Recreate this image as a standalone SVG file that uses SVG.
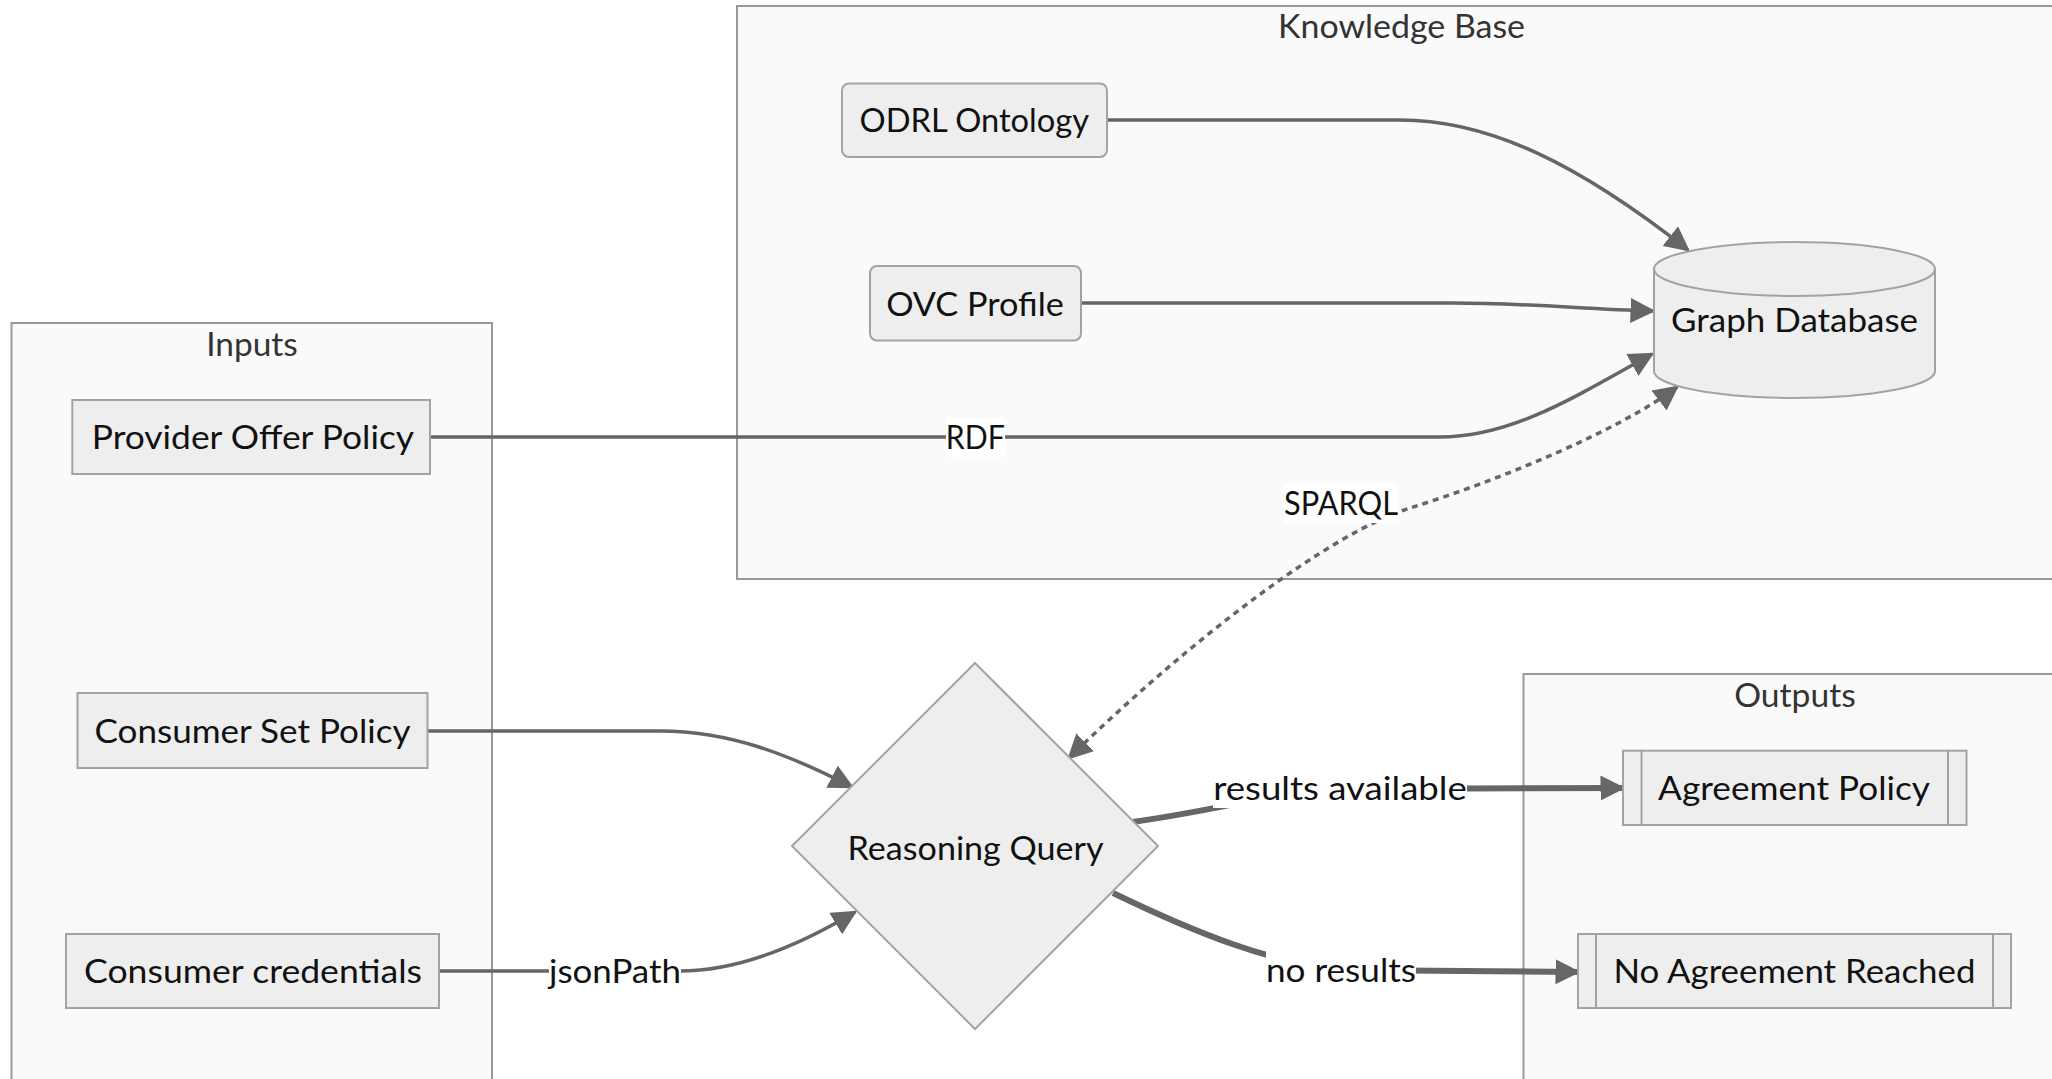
<svg xmlns="http://www.w3.org/2000/svg" width="2052" height="1079" viewBox="0 0 2052 1079">
  <style>
    .cluster rect { fill: #fafafa; stroke: #999999; stroke-width: 2; }
    .cluster text { font-family: Lato, "Liberation Sans", sans-serif; font-size: 33.5px; fill: #333333; text-anchor: middle; }
    .node rect, .node path, .node polygon { fill: #eeeeee; stroke: #a3a3a3; stroke-width: 2; }
    .node line { stroke: #a3a3a3; stroke-width: 2; }
    .node text { font-family: Lato, "Liberation Sans", sans-serif; font-size: 33.5px; fill: #111111; text-anchor: middle; }
    .edge { fill: none; stroke: #666666; stroke-width: 3.5; }
    .edge.thick { stroke-width: 6; }
    .edge.dotted { stroke-width: 3.5; stroke-dasharray: 6 5; }
    .elabel rect { fill: #ffffff; stroke: none; }
    .elabel text { font-family: Lato, "Liberation Sans", sans-serif; font-size: 33.5px; fill: #111111; text-anchor: middle; }
  </style>
  <defs>
    <marker id="arrowEnd" viewBox="0 0 10 10" refX="9" refY="5" markerUnits="userSpaceOnUse" markerWidth="25" markerHeight="25" orient="auto">
      <path d="M0,0 L10,5 L0,10 z" fill="#666666"/>
    </marker>
    <marker id="arrowStart" viewBox="0 0 10 10" refX="1" refY="5" markerUnits="userSpaceOnUse" markerWidth="25" markerHeight="25" orient="auto">
      <path d="M10,0 L0,5 L10,10 z" fill="#666666"/>
    </marker>
  </defs>

  <rect x="0" y="0" width="2052" height="1079" fill="#ffffff"/>

  <!-- subgraphs -->
  <g id="cluster-knowledge-base" class="cluster">
    <rect x="737" y="6" width="1360" height="573"/>
    <text x="1401.5" y="38" textLength="247" lengthAdjust="spacingAndGlyphs">Knowledge Base</text>
  </g>
  <g id="cluster-inputs" class="cluster">
    <rect x="11.5" y="323" width="480.5" height="800"/>
    <text x="252" y="356" textLength="91.5" lengthAdjust="spacingAndGlyphs">Inputs</text>
  </g>
  <g id="cluster-outputs" class="cluster">
    <rect x="1523.5" y="674" width="600" height="450"/>
    <text x="1795" y="707" textLength="121.6" lengthAdjust="spacingAndGlyphs">Outputs</text>
  </g>

  <!-- connectors -->
  <g id="edges">
    <path id="e-odrl-gdb" class="edge" d="M1107,120 L1400,120 C1490,120 1580,165 1688,250" marker-end="url(#arrowEnd)"/>
    <path id="e-ovc-gdb" class="edge" d="M1081,303 L1450,303 C1530,303 1580,309 1653,311" marker-end="url(#arrowEnd)"/>
    <path id="e-provider-gdb" class="edge" d="M430,437 L1440,437 C1510,437 1570,400 1652,354" marker-end="url(#arrowEnd)"/>
    <path id="e-gdb-query" class="edge dotted" d="M1677,387 C1620,430 1500,480 1410,508 C1330,533 1190,640 1069,758" marker-start="url(#arrowStart)" marker-end="url(#arrowEnd)"/>
    <path id="e-setpolicy-query" class="edge" d="M428,731 L660,731 C730,731 790,755 852,787" marker-end="url(#arrowEnd)"/>
    <path id="e-credentials-query" class="edge" d="M439,971 L680,971 C740,971 800,945 855,912" marker-end="url(#arrowEnd)"/>
    <path id="e-query-agreement" class="edge thick" d="M1133,822 C1230,808 1280,791 1340,789 L1623,788" marker-end="url(#arrowEnd)"/>
    <path id="e-query-noagreement" class="edge thick" d="M1113,893 C1200,935 1270,962 1341,970 L1578,972" marker-end="url(#arrowEnd)"/>

    <g class="elabel">
      <rect x="946" y="418" width="59" height="39"/>
      <text x="975.3" y="448.5" textLength="59" lengthAdjust="spacingAndGlyphs">RDF</text>
    </g>
    <g class="elabel">
      <rect x="1284" y="484" width="114" height="39"/>
      <text x="1341" y="515" textLength="114" lengthAdjust="spacingAndGlyphs">SPARQL</text>
    </g>
    <g class="elabel">
      <rect x="549" y="952" width="132" height="39"/>
      <text x="615" y="982.7" textLength="132" lengthAdjust="spacingAndGlyphs">jsonPath</text>
    </g>
    <g class="elabel">
      <rect x="1213" y="769" width="254" height="39"/>
      <text x="1340" y="800" textLength="253.7" lengthAdjust="spacingAndGlyphs">results available</text>
    </g>
    <g class="elabel">
      <rect x="1266" y="951" width="150" height="39"/>
      <text x="1341" y="981.7" textLength="150" lengthAdjust="spacingAndGlyphs">no results</text>
    </g>
  </g>

  <!-- nodes -->
  <g id="odrl-ontology" class="node">
    <rect x="842" y="83.5" width="265" height="73.5" rx="7" ry="7"/>
    <text x="974.3" y="132" textLength="229.5" lengthAdjust="spacingAndGlyphs">ODRL Ontology</text>
  </g>
  <g id="ovc-profile" class="node">
    <rect x="870" y="266" width="211" height="74.5" rx="7" ry="7"/>
    <text x="975" y="315.5" textLength="177.75" lengthAdjust="spacingAndGlyphs">OVC Profile</text>
  </g>
  <g id="graph-database" class="node">
    <path d="M1654,269 a140.5,27 0 0 0 281,0 a140.5,27 0 0 0 -281,0 l0,102 a140.5,27 0 0 0 281,0 l0,-102"/>
    <text x="1794.6" y="331.7" textLength="247" lengthAdjust="spacingAndGlyphs">Graph Database</text>
  </g>
  <g id="provider-offer-policy" class="node">
    <rect x="72.3" y="400" width="357.7" height="74"/>
    <text x="252.9" y="449.3" textLength="322.3" lengthAdjust="spacingAndGlyphs">Provider Offer Policy</text>
  </g>
  <g id="consumer-set-policy" class="node">
    <rect x="77.5" y="693" width="350" height="75"/>
    <text x="252.5" y="742.7" textLength="316" lengthAdjust="spacingAndGlyphs">Consumer Set Policy</text>
  </g>
  <g id="consumer-credentials" class="node">
    <rect x="66" y="934" width="373" height="74"/>
    <text x="253" y="983" textLength="338" lengthAdjust="spacingAndGlyphs">Consumer credentials</text>
  </g>
  <g id="reasoning-query" class="node">
    <polygon points="975,663 1158,846 975,1029 792,846"/>
    <text x="975.6" y="860" textLength="256" lengthAdjust="spacingAndGlyphs">Reasoning Query</text>
  </g>
  <g id="agreement-policy" class="node">
    <rect x="1623" y="750.7" width="343.5" height="74.3"/>
    <line x1="1641.5" y1="750.7" x2="1641.5" y2="825"/>
    <line x1="1948" y1="750.7" x2="1948" y2="825"/>
    <text x="1794" y="800" textLength="271.8" lengthAdjust="spacingAndGlyphs">Agreement Policy</text>
  </g>
  <g id="no-agreement-reached" class="node">
    <rect x="1578" y="934" width="433" height="74"/>
    <line x1="1596" y1="934" x2="1596" y2="1008"/>
    <line x1="1993" y1="934" x2="1993" y2="1008"/>
    <text x="1794.4" y="982.7" textLength="362" lengthAdjust="spacingAndGlyphs">No Agreement Reached</text>
  </g>
</svg>
